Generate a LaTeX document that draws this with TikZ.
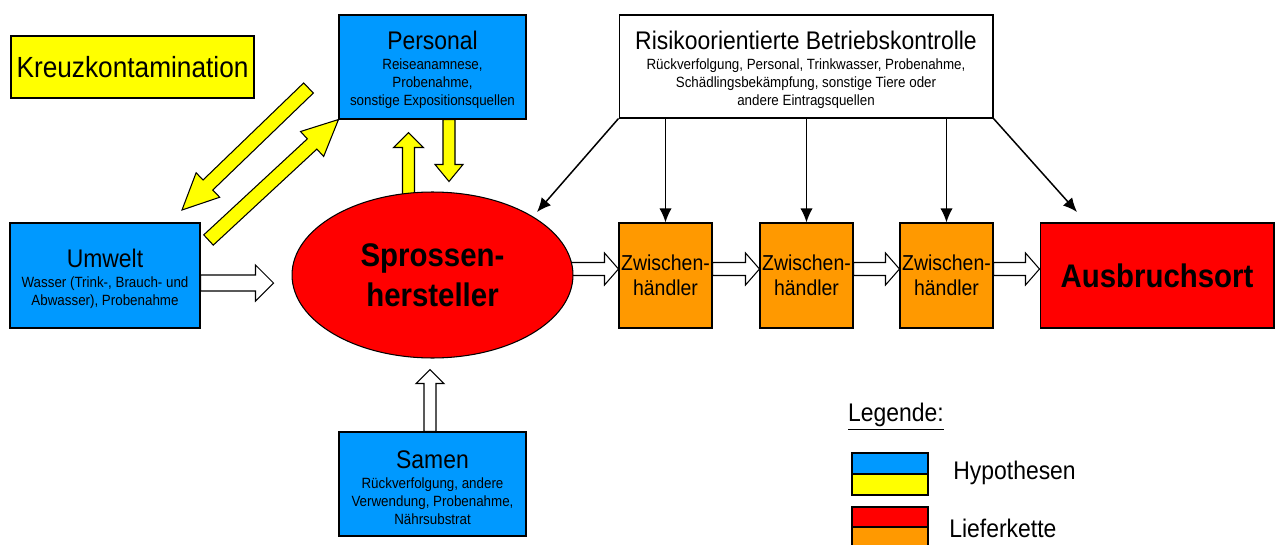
\documentclass[tikz,border=0pt]{standalone}
\usepackage{fontspec}
\setmainfont{Liberation Sans}[FakeStretch=0.9]
\usepackage{tikz}
\usetikzlibrary{shapes.geometric, arrows.meta, calc, backgrounds}
\definecolor{hypoBlue}{RGB}{0, 153, 255}
\definecolor{hypoYellow}{RGB}{255, 255, 0}
\definecolor{chainRed}{RGB}{255, 0, 0}
\definecolor{chainOrange}{RGB}{255, 153, 0}

\newcommand{\titlefont}{\fontsize{14.5}{17}\selectfont}
\newcommand{\subfont}{\fontsize{8.45}{10.2}\selectfont}
\newcommand{\bigbold}{\fontsize{18.6}{22.7}\selectfont\bfseries}
\newcommand{\boxtitle}[1]{{\titlefont\rule{0pt}{14pt}#1}}

% fat arrow: style, shaft half width, head half width, head length, from, to
\newcommand{\fatArrow}[6]{%
    \path (#5) coordinate (fa-s) (#6) coordinate (fa-e);
    \path ($(fa-e)!#4!(fa-s)$) coordinate (fa-h);
    \draw[#1] ($(fa-s)!#2!90:(fa-e)$) -- ($(fa-h)!#2!90:(fa-e)$) -- ($(fa-h)!#3!90:(fa-e)$) -- (fa-e)
        -- ($(fa-h)!#3!-90:(fa-e)$) -- ($(fa-h)!#2!-90:(fa-e)$) -- ($(fa-s)!#2!-90:(fa-e)$) -- cycle;
}

\begin{document}
\begin{tikzpicture}[x=0.02cm, y=-0.02cm,
    box/.style={draw, line width=0.6pt, inner sep=0pt, align=center},
    hypbox/.style={box, fill=hypoBlue, font=\subfont},
    chainbox/.style={box, fill=chainOrange, minimum width=1.86cm, minimum height=2.1cm, font=\fontsize{12.3}{14.2}\selectfont},
    ctrl/.style={line width=0.85pt, -{Latex[length=8pt, width=7pt]}},
    whitearrow/.style={draw, fill=white, line width=0.6pt},
    yellowarrow/.style={draw, fill=hypoYellow, line width=0.6pt}]
    \useasboundingbox (0,0) rectangle (1277,544);

    % Hypotheses
    \node[box, fill=hypoYellow, minimum width=4.86cm, minimum height=1.24cm, font=\fontsize{16.6}{20}\selectfont] (kreuz) at (132.5,67) {Kreuzkontamination};
    \node[hypbox, minimum width=3.74cm, minimum height=2.08cm] (personal) at (432.5,67)
        {\boxtitle{Personal}\\[1.2pt] Reiseanamnese,\\ Probenahme,\\ sonstige Expositionsquellen};
    \node[hypbox, minimum width=3.8cm, minimum height=2.1cm] (umwelt) at (105,275.5)
        {\boxtitle{Umwelt}\\[1.2pt] Wasser (Trink-, Brauch- und\\ Abwasser), Probenahme};
    \node[hypbox, minimum width=3.74cm, minimum height=2.08cm] (samen) at (432.5,484)
        {\boxtitle{Samen}\\[1.2pt] Rückverfolgung, andere\\ Verwendung, Probenahme,\\ Nährsubstrat};

    % Control
    \node[box, fill=white, font=\subfont, minimum width=7.48cm, minimum height=2.06cm] (risiko) at (806,66.5)
        {\boxtitle{Risikoorientierte Betriebskontrolle}\\[1.2pt] Rückverfolgung, Personal, Trinkwasser, Probenahme,\\ Schädlingsbekämpfung, sonstige Tiere oder\\ andere Eintragsquellen};

    % Supply chain
    \node[ellipse, draw, line width=0.6pt, fill=chainRed, inner sep=0pt, minimum width=5.62cm, minimum height=3.32cm, align=center, font=\bigbold] (hersteller) at (432.5,275) {Sprossen-\\hersteller};
    \node[chainbox] (zw1) at (665.5,275.5) {Zwischen-\\händler};
    \node[chainbox] (zw2) at (806.5,275.5) {Zwischen-\\händler};
    \node[chainbox] (zw3) at (946.5,275.5) {Zwischen-\\händler};
    \node[box, fill=chainRed, minimum width=4.68cm, minimum height=2.1cm, font=\bigbold] (ausbruch) at (1157,275.5) {Ausbruchsort};

    \coordinate (kreuzA) at (308.5,88);
    \coordinate (kreuzB) at (182,210);
    \coordinate (kreuzC) at (208.5,240);
    \coordinate (ctrlH) at (537,212);
    \coordinate (ctrlA) at (1077,212);

    \begin{scope}[on background layer]
        % white block arrows
        \fatArrow{whitearrow}{0.16cm}{0.36cm}{0.36cm}{$(umwelt.east)+(0,7.5)$}{$(hersteller.west)+(-18,8)$}
        \fatArrow{whitearrow}{0.13cm}{0.32cm}{0.28cm}{$(hersteller.east)+(-6,-6)$}{$(zw1.west)+(0,-6.5)$}
        \fatArrow{whitearrow}{0.13cm}{0.32cm}{0.28cm}{$(zw1.east)+(0,-6.5)$}{$(zw2.west)+(0,-6.5)$}
        \fatArrow{whitearrow}{0.13cm}{0.32cm}{0.28cm}{$(zw2.east)+(0,-6.5)$}{$(zw3.west)+(0,-6.5)$}
        \fatArrow{whitearrow}{0.13cm}{0.32cm}{0.28cm}{$(zw3.east)+(0,-6.5)$}{$(ausbruch.west)+(0,-6.5)$}
        \fatArrow{whitearrow}{0.12cm}{0.28cm}{0.28cm}{$(samen.north)+(-2.5,0)$}{$(hersteller.south)+(-2.5,11)$}
        % yellow block arrows
        \fatArrow{yellowarrow}{0.12cm}{0.3cm}{0.3cm}{$(hersteller.north)+(-24,10)$}{$(personal.south)+(-24,13)$}
        \fatArrow{yellowarrow}{0.12cm}{0.28cm}{0.34cm}{$(personal.south)+(16.5,0)$}{$(hersteller.north)+(16.5,-10)$}
        \fatArrow{yellowarrow}{0.14cm}{0.34cm}{0.72cm}{kreuzA}{kreuzB}
        \fatArrow{yellowarrow}{0.14cm}{0.34cm}{0.72cm}{kreuzC}{personal.south west}
    \end{scope}

    % control arrows
    \draw[ctrl] (risiko.south west) -- (ctrlH);
    \foreach \z in {zw1,zw2,zw3} {
        \draw[ctrl] (\z.north |- risiko.south) -- (\z.north);
    }
    \draw[ctrl] (risiko.south east) -- (ctrlA);

    % Legend
    \node[font=\titlefont, inner sep=0pt] (legende) at (896,417) {\underline{Legende:}};
    \draw[fill=hypoBlue, line width=0.6pt] (852,453) rectangle (928,474);
    \draw[fill=hypoYellow, line width=0.6pt] (852,474) rectangle (928,495);
    \node[anchor=west, font=\titlefont, inner sep=0pt] (hyp) at (953,473) {Hypothesen};
    \draw[fill=chainRed, line width=0.6pt] (852,507) rectangle (928,527);
    \draw[fill=chainOrange, line width=0.6pt] (852,527) rectangle (928,548);
    \node[anchor=west, font=\titlefont, inner sep=0pt] (lief) at (949,528) {Lieferkette};
\end{tikzpicture}
\end{document}
